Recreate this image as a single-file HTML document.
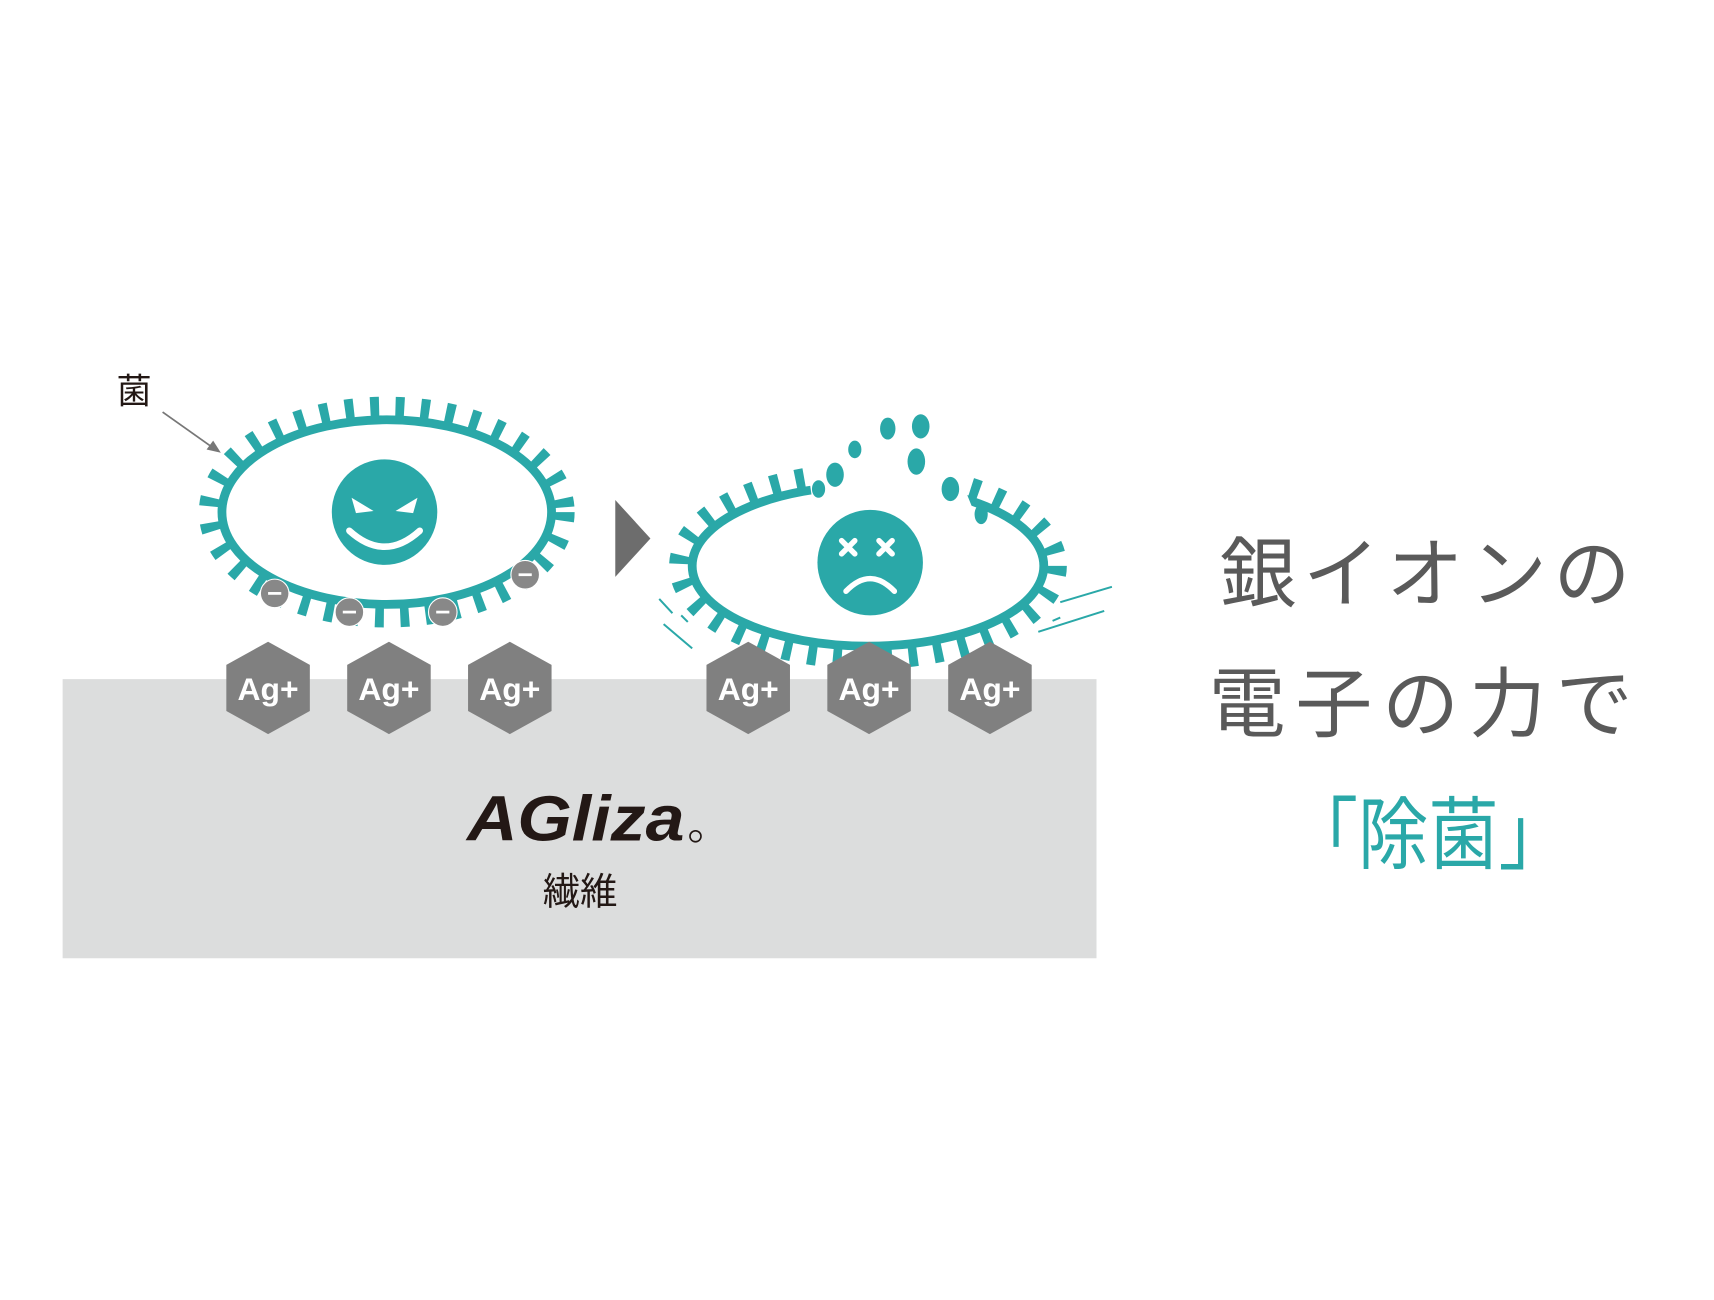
<!DOCTYPE html>
<html><head><meta charset="utf-8"><style>
html,body{margin:0;padding:0;background:#fff;}
svg{display:block;}
</style></head><body>
<svg width="1714" height="1300" viewBox="0 0 1560 1183" preserveAspectRatio="none" xmlns="http://www.w3.org/2000/svg">
<rect x="0" y="0" width="1560" height="1183" fill="#fff"/>
<rect x="57" y="618" width="941" height="254" fill="#dcdddd"/>

<text x="106" y="367" font-family="'Liberation Sans','Noto Sans CJK JP',sans-serif" font-size="32" fill="#231815">菌</text>
<line x1="148" y1="375" x2="196" y2="409" stroke="#777" stroke-width="1.6"/>
<polygon points="201,412 188,409 194,401" fill="#777"/>

<ellipse cx="352" cy="466" rx="161" ry="95" fill="none" stroke="#2aa8a8" stroke-width="20" stroke-dasharray="8 15" stroke-linecap="butt"/>
<ellipse cx="352" cy="466" rx="150" ry="84" fill="#fff" stroke="#2aa8a8" stroke-width="8"/>
<circle cx="350" cy="466" r="48" fill="#2aa8a8"/>
<path d="M320 453 L340 465 L324 467 Z M380 453 L360 465 L376 467 Z" fill="#fff"/>
<path d="M318 483 Q350 512 382 483" fill="none" stroke="#fff" stroke-width="6" stroke-linecap="round"/>
<g fill="#888" stroke="#fff" stroke-width="1"><circle cx="250" cy="540" r="13"/><circle cx="318" cy="557" r="13"/><circle cx="403" cy="557" r="13"/><circle cx="478" cy="523" r="13"/></g>
<g stroke="#fff" stroke-width="2.5"><line x1="244" y1="540" x2="256" y2="540"/><line x1="312" y1="557" x2="324" y2="557"/><line x1="397" y1="557" x2="409" y2="557"/><line x1="472" y1="523" x2="484" y2="523"/></g>

<polygon points="560,455 592,490 560,525" fill="#6d6d6d"/>

<ellipse cx="790" cy="515" rx="171" ry="84" fill="none" stroke="#2aa8a8" stroke-width="20" stroke-dasharray="8 15" stroke-linecap="butt"/>
<ellipse cx="790" cy="515" rx="160" ry="73" fill="#fff" stroke="#2aa8a8" stroke-width="8"/>
<path d="M735 425 Q790 390 870 425 L885 462 Q800 445 740 460 Z" fill="#fff"/>
<g fill="#2aa8a8">
<ellipse cx="760" cy="432" rx="8" ry="11"/><ellipse cx="778" cy="409" rx="6" ry="8"/><ellipse cx="808" cy="390" rx="7" ry="10"/>
<ellipse cx="838" cy="388" rx="8" ry="11"/><ellipse cx="834" cy="420" rx="8" ry="12"/><ellipse cx="865" cy="445" rx="8" ry="11"/>
<ellipse cx="745" cy="445" rx="6" ry="8"/><ellipse cx="893" cy="468" rx="6" ry="9"/>
</g>
<circle cx="792" cy="512" r="48" fill="#2aa8a8"/>
<g stroke="#fff" stroke-width="5" stroke-linecap="round">
<line x1="766" y1="492" x2="778" y2="504"/><line x1="778" y1="492" x2="766" y2="504"/>
<line x1="800" y1="492" x2="812" y2="504"/><line x1="812" y1="492" x2="800" y2="504"/>
</g>
<path d="M770 538 Q792 515 814 538" fill="none" stroke="#fff" stroke-width="5" stroke-linecap="round"/>
<g stroke="#2aa8a8" stroke-width="1.8">
<line x1="600" y1="545" x2="612" y2="558"/><line x1="604" y1="568" x2="630" y2="590"/><line x1="620" y1="560" x2="626" y2="566"/>
<line x1="965" y1="548" x2="1012" y2="534"/><line x1="945" y1="575" x2="1005" y2="556"/><line x1="958" y1="565" x2="965" y2="562"/>
</g>

<g fill="#808080">
<polygon points="244,584 282,605 282,647 244,668 206,647 206,605"/>
<polygon points="354,584 392,605 392,647 354,668 316,647 316,605"/>
<polygon points="464,584 502,605 502,647 464,668 426,647 426,605"/>
<polygon points="681,584 719,605 719,647 681,668 643,647 643,605"/>
<polygon points="791,584 829,605 829,647 791,668 753,647 753,605"/>
<polygon points="901,584 939,605 939,647 901,668 863,647 863,605"/>
</g>
<g font-family="'Liberation Sans',sans-serif" font-weight="bold" font-size="29" fill="#fff" text-anchor="middle">
<text x="244" y="637">Ag+</text><text x="354" y="637">Ag+</text><text x="464" y="637">Ag+</text>
<text x="681" y="637">Ag+</text><text x="791" y="637">Ag+</text><text x="901" y="637">Ag+</text>
</g>

<text x="425" y="765" font-family="'Liberation Sans',sans-serif" font-weight="bold" font-style="italic" font-size="58" fill="#231815" textLength="198" lengthAdjust="spacingAndGlyphs">AGliza</text>
<circle cx="633" cy="761" r="5" fill="none" stroke="#231815" stroke-width="1.5"/>
<text x="528" y="823" text-anchor="middle" font-family="'Liberation Sans','Noto Sans CJK JP',sans-serif" font-size="34" fill="#231815">繊維</text>

<g font-family="'Liberation Sans','Noto Sans CJK JP',sans-serif" font-size="70" fill="#5a5a5a">
<text x="1110" y="547" letter-spacing="6">銀イオンの</text>
<text x="1100" y="665" letter-spacing="9">電子の力で</text>
</g>
<text x="1172" y="785" font-family="'Liberation Sans','Noto Sans CJK JP',sans-serif" font-size="72" fill="#2aa8a8" textLength="256" lengthAdjust="spacingAndGlyphs">「除菌」</text>
</svg>
</body></html>
